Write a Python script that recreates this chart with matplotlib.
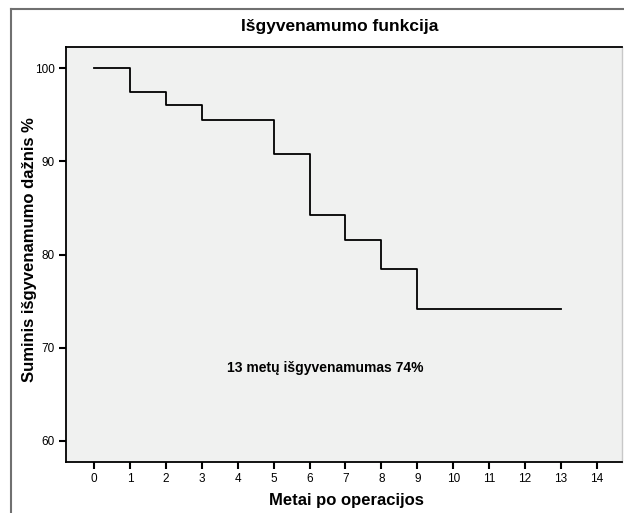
import matplotlib
matplotlib.use("Agg")
import matplotlib.pyplot as plt
from matplotlib.lines import Line2D

plt.rcParams['font.family'] = ['Liberation Sans', 'DejaVu Sans']

# Step survival data (years, cumulative survival %)
times = [0, 1, 2, 3, 5, 6, 7, 8, 9, 13]
survival = [100, 97.5, 96.1, 94.5, 90.8, 84.2, 81.6, 78.4, 74.1, 74.1]
x_ticks = list(range(0, 15))
y_ticks = [60, 70, 80, 90, 100]
title = "Išgyvenamumo funkcija"
xlabel = "Metai po operacijos"
ylabel = "Suminis išgyvenamumo dažnis %"
annotation = "13 metų išgyvenamumas 74%"

fig = plt.figure(figsize=(6.24, 5.13), dpi=100)
ax = fig.add_axes([66/624, 51/513, (622-66)/624, (462-47)/513])
ax.set_facecolor('#f0f1f0')

ax.step(times, survival, where='post', color='black', linewidth=1.3)

ax.set_xlim(-0.78, 14.7)
ax.set_ylim(57.7, 102.3)
ax.set_xticks(x_ticks)
ax.set_yticks(y_ticks)
ax.tick_params(axis='both', direction='out', length=5, width=1.5, labelsize=8.5, pad=3)
for s in ['left', 'bottom', 'top']:
    ax.spines[s].set_color('black')
    ax.spines[s].set_linewidth(1.3)
ax.spines['right'].set_color('#c8c8c8')
ax.spines['right'].set_linewidth(1.0)

ax.text(6.45, 67.8, annotation, ha='center', va='center', fontsize=10, fontweight='bold')

fig.text(340/624, 1 - 26/513, title, ha='center', va='center', fontsize=12.5, fontweight='bold')
fig.text(346/624, 1 - 501/513, xlabel, ha='center', va='center', fontsize=12, fontweight='bold')
fig.text(30/624, 1 - 250/513, ylabel, ha='center', va='center', rotation=90, fontsize=12, fontweight='bold')

# outer frame
fig.add_artist(Line2D([11/624, 1.0], [1 - 9/513, 1 - 9/513], transform=fig.transFigure, color='#707070', linewidth=1.5))
fig.add_artist(Line2D([11/624, 11/624], [0, 1 - 9/513], transform=fig.transFigure, color='#707070', linewidth=1.5))

fig.savefig('out.png', dpi=100)
